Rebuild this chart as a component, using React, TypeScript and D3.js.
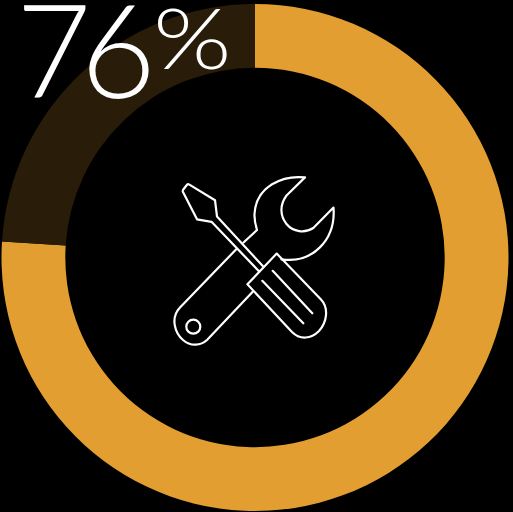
import React from "react";
import * as d3 from "d3";

// Share of the ring that is filled, and its remainder
const percent = 76;
const ringSlices = [
  { name: "filled", value: percent, color: "#e29e30" },
  { name: "rest", value: 100 - percent, color: "#291c09" },
];
const percentSign = "%";

// Crossed tools icon outlines
const wrenchOutline = [
  "M305,177.4 C283,175 256,186 254.5,214 C254.2,220 255.5,225 257,230 L243.5,242.5",
  "M236,249.5 L180,307.5 C170,318 175,333 183,340 C191,347 201,345.5 207,340 L252.7,291.7",
  "M281.5,259.3 C312,264 336,240 333.5,207.5 L313.3,228 C305,233.5 293,232 286.5,224 C280,216 279.5,205 286.5,195.5 L305,177.4",
].join(" ");
const screwdriverOutline = [
  "M259.5,271.8 L211.5,221.8 L197,219.3 L183,192 Q182.4,190.6 183.3,189.5 L186.8,185 Q187.8,183.8 189,184.4 L215,200.2 L217,216.5 L263.5,266.8",
  "M247.4,284.3 L276.7,253.6 L321,299.5 C329,308 327,322 319,331 C311,339 300,340 292,332 Z",
  "M272.7,270.8 L312.3,313.3",
  "M262.3,280.8 L303.3,323.3",
].join(" ");

export default function App() {
  const pie = d3.pie<(typeof ringSlices)[number]>().sort(null).value((d) => d.value);
  const arc = d3
    .arc<d3.PieArcDatum<(typeof ringSlices)[number]>>()
    .innerRadius(189.7)
    .outerRadius(253.5);
  const slices = pie(ringSlices);

  return (
    <svg
      width={513}
      height={512}
      style={{ position: "fixed", left: 0, top: 0, background: "#000", display: "block" }}
    >
      <rect width={513} height={512} fill="#000" />
      <g transform="translate(255,257.5)">
        {slices.map((s) => (
          <path key={s.data.name} d={arc(s) ?? ""} fill={s.data.color} />
        ))}
      </g>
      <g fill="none" stroke="#fff" strokeWidth={2.2} strokeLinejoin="round" strokeLinecap="round">
        <path d={wrenchOutline} />
        <path d={screwdriverOutline} />
        <circle cx={193.3} cy={326.7} r={7} />
      </g>
      <text x={16} y={98} fill="#fff" fontFamily="Lato" fontWeight={300} fontSize={130} letterSpacing={-11}>
        {percent}
      </text>
      <text
        transform="translate(153,69) scale(1.2,1)"
        fill="#fff"
        fontFamily="Lato"
        fontWeight={300}
        fontSize={84}
      >
        {percentSign}
      </text>
    </svg>
  );
}
